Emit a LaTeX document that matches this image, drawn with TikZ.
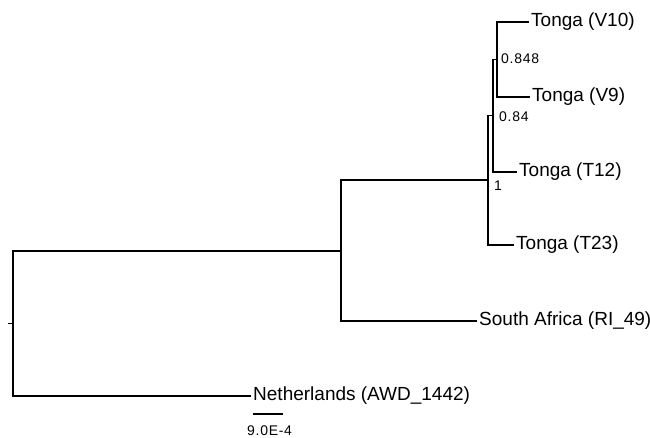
\documentclass[tikz,border=0pt]{standalone}
\usepackage{fontspec}
\setmainfont{Liberation Sans}
\begin{document}
\begin{tikzpicture}[x=1pt,y=-1pt,
  branch/.style={line width=1.7pt, black},
  tip/.style={anchor=west, inner sep=2pt, font=\fontsize{19}{22}\selectfont},
  support/.style={anchor=west, inner sep=0pt, font=\fontsize{14}{16}\addfontfeatures{LetterSpace=5}\selectfont}]
\useasboundingbox (0,0) rectangle (650,438);
% internal nodes
\coordinate (stub) at (8,323.5);
\coordinate (root) at (13,323.5);
\coordinate (n1) at (341,251);
\coordinate (n2) at (488,180);
\coordinate (n3) at (493,115.5);
\coordinate (n4) at (497,59.5);
% tips
\node[tip] (v10) at (529,22) {Tonga (V10)};
\node[tip] (v9) at (530,97) {Tonga (V9)};
\node[tip] (t12) at (517,172) {Tonga (T12)};
\node[tip] (t23) at (514,245) {Tonga (T23)};
\node[tip] (sa) at (477,321) {South Africa (RI\_49)};
\node[tip] (nl) at (251,396) {Netherlands (AWD\_1442)};
% support values
\node[support] (s4) at (501,59) {0.848};
\node[support] (s3) at (499,117) {0.84};
\node[support] (s2) at (494,186) {1};
% branches
\draw[branch] (stub) -- (root);
\draw[branch] (root) |- (n1);
\draw[branch] (root) |- (nl.west);
\draw[branch] (n1) |- (n2);
\draw[branch] (n1) |- (sa.west);
\draw[branch] (n2) |- (n3);
\draw[branch] (n2) |- (t23.west);
\draw[branch] (n3) |- (n4);
\draw[branch] (n3) |- (t12.west);
\draw[branch] (n4) |- (v10.west);
\draw[branch] (n4) |- (v9.west);
% scale bar
\coordinate (sbL) at (253,414);
\coordinate (sbR) at (283,414);
\draw[branch] (sbL) -- (sbR);
\node[support, anchor=base west] (sbT) at (247,435) {9.0E-4};
\end{tikzpicture}
\end{document}
